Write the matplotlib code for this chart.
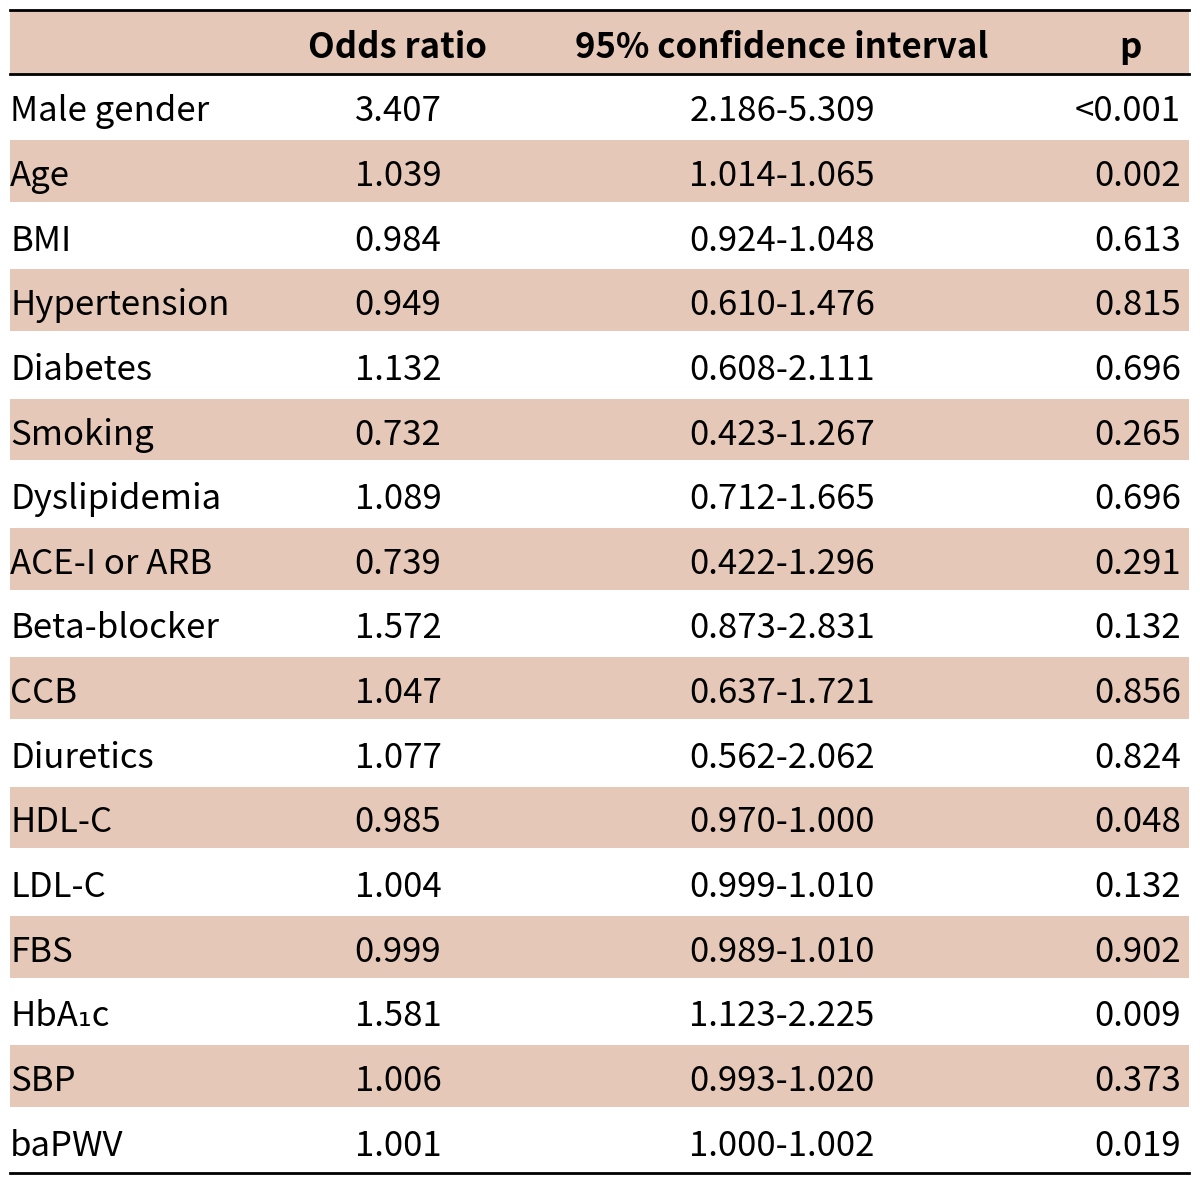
import matplotlib.pyplot as plt
from matplotlib.patches import Rectangle

plt.rcParams['font.family'] = ['Noto Sans CJK KR', 'DejaVu Sans']

# Table data
headers = ["", "Odds ratio", "95% confidence interval", "p"]
variables = ["Male gender", "Age", "BMI", "Hypertension", "Diabetes", "Smoking",
             "Dyslipidemia", "ACE-I or ARB", "Beta-blocker", "CCB", "Diuretics",
             "HDL-C", "LDL-C", "FBS", "HbA\u2081c", "SBP", "baPWV"]
odds_ratio = ["3.407", "1.039", "0.984", "0.949", "1.132", "0.732", "1.089", "0.739",
              "1.572", "1.047", "1.077", "0.985", "1.004", "0.999", "1.581", "1.006", "1.001"]
conf_int = ["2.186-5.309", "1.014-1.065", "0.924-1.048", "0.610-1.476", "0.608-2.111",
            "0.423-1.267", "0.712-1.665", "0.422-1.296", "0.873-2.831", "0.637-1.721",
            "0.562-2.062", "0.970-1.000", "0.999-1.010", "0.989-1.010", "1.123-2.225",
            "0.993-1.020", "1.000-1.002"]
p_values = ["<0.001", "0.002", "0.613", "0.815", "0.696", "0.265", "0.696", "0.291",
            "0.132", "0.856", "0.824", "0.048", "0.132", "0.902", "0.009", "0.373", "0.019"]

shade = "#E6C8B8"
W, H = 1200, 1184
fig = plt.figure(figsize=(12, 11.84), dpi=100)
ax = fig.add_axes([0, 0, 1, 1])
ax.set_xlim(0, W)
ax.set_ylim(H, 0)
ax.axis("off")

left, right = 10, 1189
top, head_bot = 10, 74
row_h = (1173 - head_bot) / len(variables)
fs = 25

# header
ax.add_patch(Rectangle((left, top), right - left, head_bot - top, color=shade, lw=0))
hb = (top + head_bot) / 2 + 16
ax.text(398, hb, headers[1], ha="center", va="baseline", fontsize=fs, fontweight="bold")
ax.text(782, hb, headers[2], ha="center", va="baseline", fontsize=fs, fontweight="bold")
ax.text(1130, hb, headers[3], ha="center", va="baseline", fontsize=fs, fontweight="bold")

for i, var in enumerate(variables):
    y0 = head_bot + i * row_h
    if i % 2 == 1:
        ax.add_patch(Rectangle((left, y0 + 1.5), right - left, row_h - 3, color=shade, lw=0))
    yb = y0 + row_h / 2 + 15
    ax.text(10, yb, var, ha="left", va="baseline", fontsize=fs)
    ax.text(398, yb, odds_ratio[i], ha="center", va="baseline", fontsize=fs)
    ax.text(782, yb, conf_int[i], ha="center", va="baseline", fontsize=fs)
    ax.text(1181, yb, p_values[i], ha="right", va="baseline", fontsize=fs)

for y in (top, head_bot, 1173):
    ax.plot([left, right], [y, y], color="black", lw=2)

fig.savefig("out.png", dpi=100, facecolor="white")
